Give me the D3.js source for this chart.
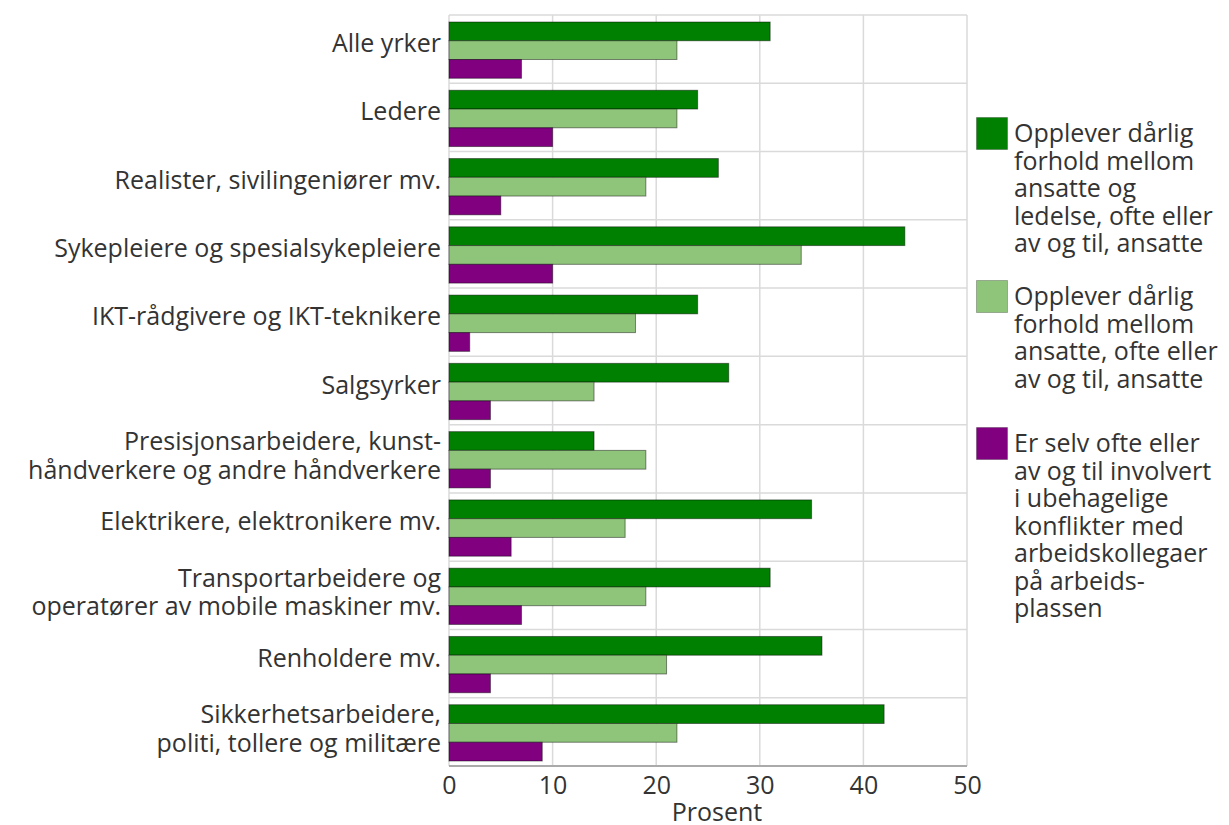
<!DOCTYPE html>
<html>
<head>
<meta charset="utf-8">
<script src="https://cdn.jsdelivr.net/npm/d3@7"></script>
<style>
  html, body { margin: 0; padding: 0; background: #fff; }
  svg { display: block; font-family: "Open Sans", sans-serif; }
</style>
</head>
<body>
<svg id="chart" width="1229" height="825"></svg>
<script>
// Occupational groups (multi-line labels split with "\n")
const categories = [
  "Alle yrker",
  "Ledere",
  "Realister, sivilingeniører mv.",
  "Sykepleiere og spesialsykepleiere",
  "IKT-rådgivere og IKT-teknikere",
  "Salgsyrker",
  "Presisjonsarbeidere, kunst-\nhåndverkere og andre håndverkere",
  "Elektrikere, elektronikere mv.",
  "Transportarbeidere og\noperatører av mobile maskiner mv.",
  "Renholdere mv.",
  "Sikkerhetsarbeidere,\npoliti, tollere og militære"
];

// Percent of employees, per series
const ledelseValues  = [31, 24, 26, 44, 24, 27, 14, 35, 31, 36, 42];
const ansatteValues  = [22, 22, 19, 34, 18, 14, 19, 17, 19, 21, 22];
const konfliktValues = [7, 10, 5, 10, 2, 4, 4, 6, 7, 4, 9];

const seriesNames = [
  "Opplever dårlig\nforhold mellom\nansatte og\nledelse, ofte eller\nav og til, ansatte",
  "Opplever dårlig\nforhold mellom\nansatte, ofte eller\nav og til, ansatte",
  "Er selv ofte eller\nav og til involvert\ni ubehagelige\nkonflikter med\narbeidskollegaer\npå arbeids-\nplassen"
];
const seriesColors = ["#008000", "#8fc57b", "#800080"];

const xTicks = [0, 10, 20, 30, 40, 50];
const xTitle = "Prosent";

const series = [ledelseValues, ansatteValues, konfliktValues];

const svg = d3.select("#chart");
const plot = { left: 449, right: 967, top: 15, bottom: 766 };
const textColor = "#333";
const fontSize = 25;

const x = d3.scaleLinear().domain([0, 50]).range([plot.left, plot.right]);
const y = d3.scaleBand().domain(categories).range([plot.top, plot.bottom]);
const inner = d3.scaleBand().domain(d3.range(series.length))
  .range([7, y.bandwidth() - 5]);

// Grid: vertical lines at ticks, horizontal separators between categories
const grid = svg.append("g");
grid.selectAll("line.v").data(xTicks).join("line")
  .attr("x1", d => x(d)).attr("x2", d => x(d))
  .attr("y1", plot.top).attr("y2", plot.bottom)
  .attr("stroke", "#dadada").attr("stroke-width", 1.5);
grid.selectAll("line.h").data(d3.range(categories.length + 1)).join("line")
  .attr("x1", plot.left).attr("x2", plot.right)
  .attr("y1", i => plot.top + i * y.step()).attr("y2", i => plot.top + i * y.step())
  .attr("stroke", "#dadada").attr("stroke-width", 1.5);

// Bars
const groups = svg.append("g").selectAll("g").data(categories).join("g")
  .attr("transform", d => `translate(0,${y(d)})`);
groups.selectAll("rect").data((d, i) => series.map((s, k) => ({ k, v: s[i] }))).join("rect")
  .attr("x", x(0))
  .attr("y", d => inner(d.k))
  .attr("width", d => x(d.v) - x(0))
  .attr("height", inner.bandwidth())
  .attr("fill", d => seriesColors[d.k])
  .attr("stroke", "rgba(0,0,0,0.45)")
  .attr("stroke-width", 1);

// Bottom axis line
svg.append("line")
  .attr("x1", plot.left).attr("x2", plot.right)
  .attr("y1", plot.bottom).attr("y2", plot.bottom)
  .attr("stroke", "#aaa").attr("stroke-width", 2);

// X axis tick labels and title
const xAxis = svg.append("g").attr("transform", `translate(0,${plot.bottom})`)
  .call(d3.axisBottom(x).tickValues(xTicks).tickSize(0).tickPadding(10));
xAxis.select(".domain").remove();
xAxis.selectAll("text").attr("font-size", fontSize).attr("fill", textColor)
  .attr("font-family", "Open Sans");
svg.append("text")
  .attr("x", 717).attr("y", 821)
  .attr("text-anchor", "middle")
  .attr("font-size", fontSize).attr("fill", textColor)
  .text(xTitle);

// Category labels
const labelLineH = 28.5;
svg.append("g").selectAll("text").data(categories).join("text")
  .attr("text-anchor", "end")
  .attr("font-size", fontSize).attr("fill", textColor)
  .each(function (d) {
    const lines = d.split("\n");
    const cy = y(d) + y.bandwidth() / 2 + 3 + (lines.length - 1) * 2.5;
    const t = d3.select(this);
    lines.forEach((ln, j) => {
      t.append("tspan")
        .attr("x", plot.left - 8)
        .attr("y", cy + (j - (lines.length - 1) / 2) * labelLineH)
        .text(ln);
    });
  });

// Legend
const legendLineH = 27.5;
const legendTops = [117, 280, 427];
const legend = svg.append("g");
seriesNames.forEach((name, k) => {
  const lines = name.split("\n");
  const ly = legendTops[k];
  legend.append("rect")
    .attr("x", 976.5).attr("y", ly + 0.5).attr("width", 31).attr("height", 32)
    .attr("fill", seriesColors[k])
    .attr("stroke", "rgba(0,0,0,0.25)").attr("stroke-width", 1);
  const t = legend.append("text").attr("font-size", fontSize).attr("fill", textColor);
  lines.forEach((ln, j) => {
    t.append("tspan").attr("x", 1014).attr("y", ly + 25 + j * legendLineH).text(ln);
  });
});
</script>
</body>
</html>
